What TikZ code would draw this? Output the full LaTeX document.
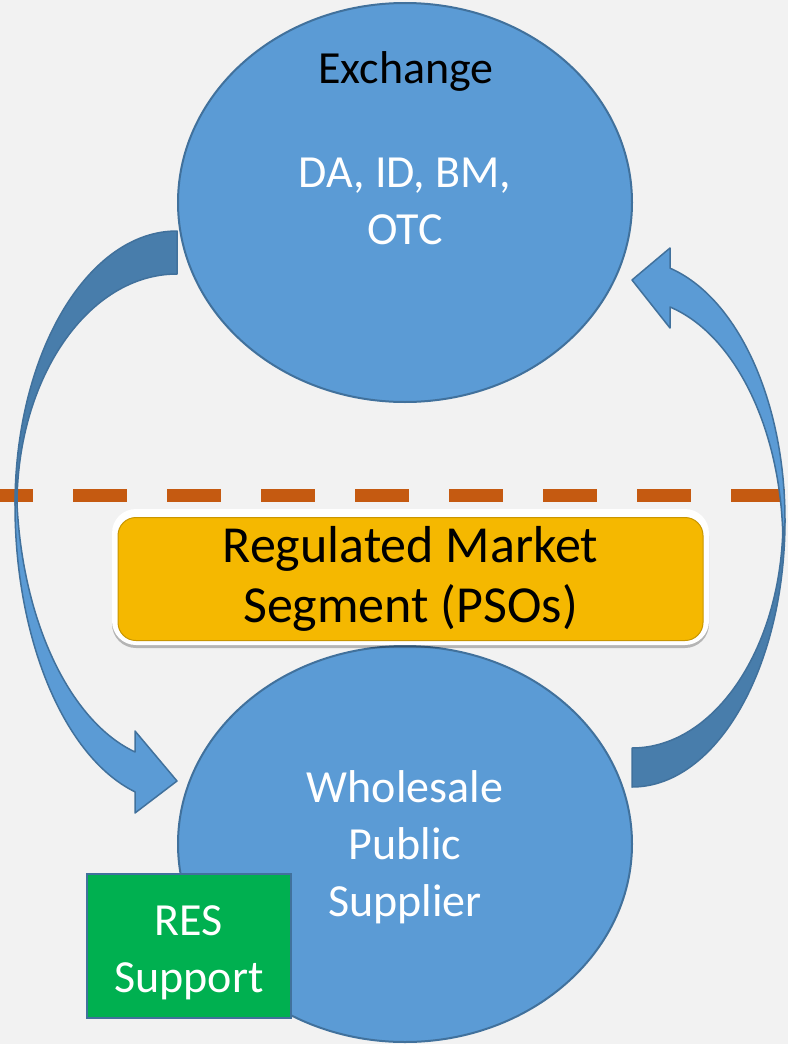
\documentclass[tikz,border=0pt]{standalone}
\usepackage{fontspec}
\setmainfont{Carlito}
\usetikzlibrary{positioning, shapes.geometric, shadows}
\definecolor{bggrey}{HTML}{F2F2F2}
\definecolor{fillblue}{HTML}{5B9BD5}
\definecolor{edgeblue}{HTML}{41719C}
\definecolor{backblue}{HTML}{487DAB}
\definecolor{divorange}{HTML}{C55A11}
\definecolor{psoyellow}{HTML}{F5B800}
\definecolor{psoedge}{HTML}{C99600}
\definecolor{resgreen}{HTML}{00B050}

\begin{document}
\begin{tikzpicture}[x=0.5pt, y=-0.5pt,
    bubble/.style={ellipse, draw=edgeblue, line width=1pt, fill=fillblue, inner sep=0pt, minimum width=227pt},
    txt/.style={font=\fontsize{23}{28.5}\selectfont, align=center, inner sep=0pt},
    front/.style={fill=fillblue, draw=edgeblue, line width=0.75pt, line join=round},
    back/.style={fill=backblue, draw=edgeblue, line width=0.75pt, line join=round}]
        \useasboundingbox (0,0) rectangle (788,1044);
        \fill[bggrey] (0,0) rectangle (788,1044);

        % market divider
        \coordinate (divL) at (0,495.5);
        \coordinate (divR) at (788,495.5);
        \draw[divorange, line width=6.5pt, dash pattern=on 27pt off 20pt, dash phase=10.5pt] (divL) -- (divR);

        % exchange -> supplier
        \path[back] (177,231) arc[start angle=270, end angle=180, x radius=162, y radius=274]
            -- (17,505) arc[start angle=180, end angle=270, x radius=160, y radius=231] -- cycle;
        \path[front] (15,505) arc[start angle=180, end angle=105, x radius=162, y radius=297]
            -- (135,813) -- (177,781) -- (135,731) -- (135,752)
            arc[start angle=105, end angle=180, x radius=160, y radius=282] -- cycle;

        % supplier -> exchange
        \path[back] (632,787) arc[start angle=90, end angle=0, x radius=153, y radius=267]
            -- (783,520) arc[start angle=0, end angle=90, x radius=151, y radius=228] -- cycle;
        \path[front] (785,520) arc[start angle=0, end angle=-75.6, x radius=153, y radius=260]
            -- (670,248) -- (632,280) -- (670,328) -- (670,307)
            arc[start angle=-75.4, end angle=0, x radius=151, y radius=246] -- cycle;

        \node[bubble, minimum height=199.5pt] (exch) at (405,202.5) {};
        \node[bubble, minimum height=198pt]   (wps)  at (405,844)   {};

        \node[fill=white, rounded corners=12pt, minimum width=298.5pt, minimum height=68pt,
              drop shadow={shadow xshift=0pt, shadow yshift=-1.5pt, fill=black, opacity=0.25}] (psoframe) at (410.5,577) {};
        \node[txt, font=\fontsize{26}{30}\selectfont, fill=psoyellow, draw=psoedge, line width=0.5pt,
              rounded corners=9pt, minimum width=292.5pt, minimum height=61.5pt] (pso) at (410.5,579) {Regulated Market\\Segment (PSOs)};

        \node[draw=edgeblue, fill=resgreen, line width=1pt, minimum width=102pt, minimum height=72pt, inner sep=0pt] (res) at (189,946) {};

        \node[txt, anchor=base]    (exchname) at (406,83)  {Exchange};
        \node[txt, text=white]     (markets)  at (405,201) {DA, ID, BM,\\OTC};
        \node[txt, text=white]     (wpsname)  at (405,847) {Wholesale\\Public\\Supplier};
        \node[txt, text=white]     (resname)  at (189,953) {RES\\Support};
    \end{tikzpicture}
\end{document}
